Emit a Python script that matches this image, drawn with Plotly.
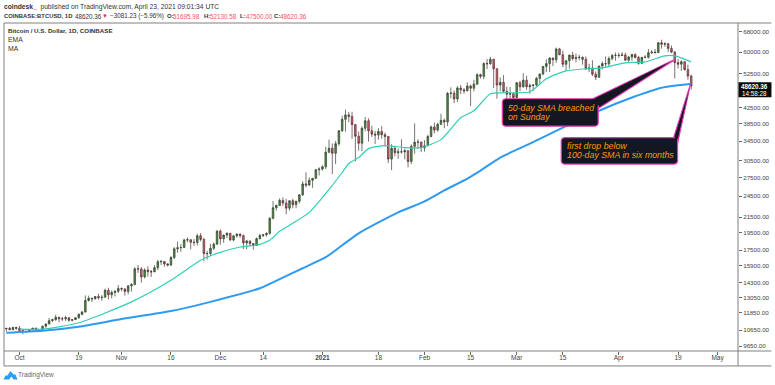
import pandas as pd
import plotly.graph_objects as go

W, H = 775, 385
L, R, T, B = 3.5, 738.5, 22.5, 351.5

closes = [10770,10690,10840,10780,
10620,10570,10550,10670,10790,10600,10670,10920,11060,11300,11370,11540,11430,11430,11510,11320,11370,11510,11750,11920,12810,12990,12940,13130,13040,13070,13650,13280,13460,13560,13800,
13760,13550,14030,14150,15590,15580,14830,15480,15330,15300,15700,16290,16330,16070,15960,16730,17660,17780,17800,18660,18680,18400,18370,19160,18720,17150,17140,17720,18180,19700,
18790,19230,19450,18650,19150,19360,19170,18320,18550,18250,18040,18810,19170,19270,19440,21350,22800,23130,23860,23480,22740,23820,23240,23730,24700,26440,26250,27040,27370,28880,28990,
29410,32200,33000,31990,33950,36800,39500,40600,40240,38240,35570,34050,37370,39150,36770,36020,35820,36630,35900,35500,30850,33000,32100,32290,32260,32510,30400,33400,34270,34300,33110,
33530,35510,37670,36950,38290,39260,38870,46450,46500,44840,48000,47450,47170,48580,47930,49150,52150,51600,55900,55800,57400,54100,48880,49700,47000,46150,46340,45240,
49600,48370,50370,48370,48760,48880,50970,52400,54900,55850,57800,57230,61190,59000,55630,56900,58900,57650,58030,58100,57350,54100,54340,52300,51300,55050,55850,55780,57620,58770,58800,
58740,58970,57060,58210,59130,58050,55950,58090,58100,59770,59980,59830,63600,62970,63200,61400,60000,56200,55660,56500,53800,51700,48620.36]

opens = [10730,10770,10690,10840,
10780,10620,10570,10550,10670,10790,10600,10670,10920,11060,11300,11370,11540,11430,11430,11510,11320,11370,11510,11750,11920,12810,12990,12940,13130,13040,13070,13650,13280,13460,13560,
13800,13760,13550,14030,14150,15590,15580,14830,15480,15330,15300,15700,16290,16330,16070,15960,16730,17660,17780,17800,18660,18680,18400,18370,19160,18720,17150,17140,17720,18180,
19700,18790,19230,19450,18650,19150,19360,19170,18320,18550,18250,18040,18810,19170,19270,19440,21350,22800,23130,23860,23480,22740,23820,23240,23730,24700,26440,26250,27040,27370,28880,
28990,29410,32200,33000,31990,33950,36800,39500,40600,40240,38240,35570,34050,37370,39150,36770,36020,35820,36630,35900,35500,30850,33000,32100,32290,32260,32510,30400,33400,34270,34300,
33110,33530,35510,37670,36950,38290,39260,38870,46450,46500,44840,48000,47450,47170,48580,47930,49150,52150,51600,55900,55800,57400,54100,48880,49700,47000,46150,46340,
45240,49600,48370,50370,48370,48760,48880,50970,52400,54900,55850,57800,57230,61190,59000,55630,56900,58900,57650,58030,58100,57350,54100,54340,52300,51300,55050,55850,55780,57620,58770,
58800,58740,58970,57060,58210,59130,58050,55950,58090,58100,59770,59980,59830,63600,62970,63200,61400,60000,56200,55660,56500,53800,51695.98]

highs = [10800,10870,10860,10860,
10930,10670,10600,10700,10800,10800,10700,10950,11110,11490,11440,11730,11550,11560,11640,11540,11400,11530,11820,12000,13220,13200,13030,13170,13350,13250,13790,13860,13640,13650,14100,
13890,13820,14070,14270,15740,15970,15760,15650,15840,15480,15960,16490,16480,16330,16170,16880,17850,18480,18190,18810,18960,18750,18770,19400,19480,18900,17440,18200,18350,19860,
19920,19300,19560,19500,19170,19420,19400,19300,18640,18560,18300,18950,19400,19350,19570,21500,23780,23280,24170,24300,24100,23830,24100,23800,24790,26890,28400,27500,27410,28990,29300,
29680,33300,34800,34000,34500,36950,40400,41950,41380,41400,38260,36600,37850,40100,39750,37950,36800,37400,37850,36400,35600,33850,33500,32960,34880,32900,32560,33800,38500,34900,34340,
34700,35900,38000,38700,38700,40900,39700,46800,48200,47300,48600,48900,48000,49700,49000,50500,52600,52500,56300,57500,58300,57500,54200,51300,52000,48400,48300,46600,
49800,50200,52600,51800,49400,49200,51400,52400,54900,57400,58100,58000,61700,61600,60600,56900,59000,60100,59400,59000,58400,58400,55800,57000,53200,55100,56600,58400,58400,59300,59800,
59800,60000,59800,58500,59300,59500,58600,58200,58900,61200,60700,61200,63800,64800,63800,63500,62500,60400,57500,57000,56800,55500,52130.58]

lows = [10560,10650,10640,10670,
10530,10370,10520,10540,10630,10530,10560,10650,10810,11060,11210,11290,11180,11280,11280,11220,11240,11340,11420,11680,11900,12720,12680,12890,12880,12780,13060,12900,12980,13130,13430,
13570,13200,13300,13530,14090,15200,14320,14700,14850,14830,15290,15470,15970,15800,15820,15880,16570,17230,17340,17780,18400,17610,18000,18030,18500,16330,16520,16900,17520,18130,
18120,18330,18870,18570,18520,18930,18910,17640,17610,17910,17570,18020,18720,19000,19050,19280,21230,22400,23060,23060,21900,22400,22720,22720,23420,24520,25880,26100,25800,27320,27850,
28700,29000,32000,28100,29900,33500,36500,36600,38800,35000,30400,32500,32400,36700,34400,35400,33900,34800,35000,33400,30100,28800,31400,30900,31900,30800,29300,29900,31900,32900,32200,
32300,33400,35300,36200,36600,38200,37400,37900,45000,43700,44000,46200,46300,47000,42900,47000,49000,50900,50700,54000,55500,48000,44900,47000,46700,44100,45100,43000,
45100,47100,48100,47500,46300,47100,48500,49300,51900,53000,53000,55000,56100,58900,54600,53300,54100,57000,56300,57000,55500,53700,53000,51700,50400,51300,53900,54700,54900,57000,56900,
57900,58500,56900,56500,56800,57700,55500,55800,57700,57600,59300,59400,59800,61300,62000,60000,59600,50900,54200,53400,53500,50500,47500]

first_day = "2020-09-27"
candle_days = pd.date_range(first_day, periods=len(closes), freq="D")

ema_dates = ["2020-10-01","2020-10-08","2020-10-19","2020-11-04","2020-11-16","2020-11-25","2020-11-30","2020-12-07","2020-12-13","2020-12-16","2020-12-19","2020-12-23","2020-12-28","2021-01-02","2021-01-07","2021-01-09","2021-01-11","2021-01-12","2021-01-15","2021-01-20","2021-01-26","2021-01-31","2021-02-06","2021-02-12","2021-02-16","2021-02-21","2021-02-25","2021-03-05","2021-03-10","2021-03-16","2021-03-22","2021-03-27","2021-04-03","2021-04-09","2021-04-15","2021-04-18","2021-04-23"]
ema_values = [10720,10722,11150,12700,14530,16450,17170,17860,18160,18620,19690,20690,22150,24910,28380,30010,30770,31150,32930,33550,33140,33140,34820,39900,41670,46300,46590,46880,50820,53400,54070,54400,56110,56450,58610,58610,56450]

ma_dates = ["2020-09-27","2020-10-08","2020-10-19","2020-11-01","2020-11-16","2020-11-28","2020-12-13","2020-12-19","2020-12-26","2021-01-02","2021-01-07","2021-01-12","2021-01-24","2021-02-01","2021-02-07","2021-02-14","2021-02-18","2021-02-24","2021-03-05","2021-03-15","2021-03-26","2021-04-04","2021-04-14","2021-04-23"]
ma_values = [10480,10610,10880,11410,11990,12700,13820,14620,15650,16760,18050,19450,22150,23710,25380,27340,28730,31150,33960,37510,41670,44880,48050,49260]

price_ticks = [68000,60000,52500,42500,38500,34500,30500,27500,24500,21500,19500,17500,15900,14300,13050,11850,10650,9650]
date_ticks = ["2020-10-01","2020-10-19","2020-11-01","2020-11-16","2020-12-01","2020-12-14","2021-01-01","2021-01-18","2021-02-01","2021-02-15","2021-03-01","2021-03-15","2021-04-01","2021-04-19","2021-05-01"]
date_labels = ["Oct","19","Nov","16","Dec","14","<b>2021</b>","18","Feb","15","Mar","15","Apr","19","May"]

FONT = "Liberation Sans"
def px(x): return (x - L) / (R - L)
def py(y): return 1 - (y - T) / (B - T)

fig = go.Figure()
fig.add_trace(go.Scatter(x=ma_dates, y=ma_values, mode="lines", line=dict(color="#2e9bf0", width=2, shape="spline", smoothing=0.6), hoverinfo="skip", showlegend=False))
fig.add_trace(go.Scatter(x=ema_dates, y=ema_values, mode="lines", line=dict(color="#2fd0b4", width=1.2, shape="spline", smoothing=0.6), hoverinfo="skip", showlegend=False))
fig.add_trace(go.Candlestick(x=candle_days, open=opens, high=highs, low=lows, close=closes, whiskerwidth=0,
    increasing=dict(line=dict(color="#33402e", width=0.7), fillcolor="#4c8f3f"),
    decreasing=dict(line=dict(color="#4a3034", width=0.7), fillcolor="#d9606c"),
    showlegend=False))

def seg(x0, y0, x1, y1, color="#808080", w=1):
    return dict(type="line", xref="paper", yref="paper", x0=px(x0), y0=py(y0), x1=px(x1), y1=py(y1), line=dict(color=color, width=w), layer="above")

def pth(pts, fill, line=None, lw=1.3):
    d = "M" + " L".join(f"{px(x):.5f},{py(y):.5f}" for x, y in pts) + " Z"
    return dict(type="path", xref="paper", yref="paper", path=d, fillcolor=fill, layer="above",
                line=dict(color=line or fill, width=lw if line else 0))

def rounded(x0, y0, x1, y1, r):
    return [(x0+r,y0),(x1-r,y0),(x1-r*.3,y0+r*.3),(x1,y0+r),(x1,y1-r),(x1-r*.3,y1-r*.3),(x1-r,y1),(x0+r,y1),(x0+r*.3,y1-r*.3),(x0,y1-r),(x0,y0+r),(x0+r*.3,y0+r*.3)]

mag = "#e23bb4"; dark = "#131722"
shapes = []
shapes.append(pth([(593,98.5),(675.5,59),(599,108)], dark, mag, 1.2))
shapes.append(pth(rounded(502.5,98.5,598.5,126,3), dark, mag, 1.2))
shapes.append(pth([(592,100),(672,60.5),(597,106)], dark))
shapes.append(pth([(674,137.5),(691,83.5),(678,143)], dark, mag, 1.2))
shapes.append(pth(rounded(561.5,137.5,678,164,3), dark, mag, 1.2))
shapes.append(pth([(675,139),(690,88),(677,141)], dark))
shapes += [seg(3.5,22.5,772,22.5), seg(3.5,22.5,3.5,366.5), seg(3.5,366.5,772,366.5), seg(738.5,22.5,738.5,366.5), seg(3.5,351.5,772,351.5)]
shapes.append(pth([(739,82),(772,82),(772,97),(739,97)], "#0a0a0a"))
shapes.append(pth([(3,380),(5,376),(7,376),(10,371.5),(13,375),(15,375),(17,380),(13,380),(11,377),(8.5,380)], "#2a9df4"))

def note(x, y, text, size=7, color="#333", anchor="left"):
    return dict(xref="paper", yref="paper", x=px(x), y=py(y), text=text, showarrow=False, xanchor=anchor, yanchor="middle",
                align="left", borderpad=0, borderwidth=0, font=dict(family=FONT, size=size, color=color))

red = "#f7525f"
orange = "#ff9800"
annotations = [
    note(3, 6.5, "<b>coindesk_</b> &nbsp;published on TradingView.com, April 23, 2021 09:01:34 UTC", size=6.7),
    note(3, 15.5, "<b>COINBASE:BTCUSD, 1D</b>", size=5.9),
    note(75, 15.5, "48620.36", size=6.3),
    note(102, 15.5, "▼", size=6, color="#e5303c"),
    note(110, 15.5, "−3081.23 (−5.96%)", size=6.3),
    note(167, 15.5, "<b>O:</b>", size=6), note(172.5, 15.5, "51695.98", size=6.3, color=red),
    note(204, 15.5, "<b>H:</b>", size=6), note(210, 15.5, "52130.58", size=6.3, color=red),
    note(240, 15.5, "<b>L:</b>", size=6), note(245.5, 15.5, "47500.00", size=6.3, color=red),
    note(274, 15.5, "<b>C:</b>", size=6), note(280, 15.5, "48620.36", size=6.3, color=red),
    note(8, 30.5, "<b>Bitcoin / U.S. Dollar, 1D, COINBASE</b>", size=6.2),
    note(8, 39.5, "EMA", size=6.8),
    note(8, 48.5, "MA", size=6.8),
    note(508, 107.5, "<i>50-day SMA breached</i>", size=8.7, color=orange),
    note(508, 116.5, "<i>on Sunday</i>", size=8.7, color=orange),
    note(567, 146, "<i>first drop below</i>", size=8.8, color=orange),
    note(567, 154.5, "<i>100-day SMA in six months</i>", size=8.8, color=orange),
    note(755.5, 86.3, "<b>48620.36</b>", size=6.3, color="#ffffff", anchor="center"),
    note(755.5, 93, "14:58:28", size=6.3, color="#ffffff", anchor="center"),
    note(18, 376, "TradingView", size=6.5, color="#666"),
]

fig.update_layout(
    width=W, height=H, margin=dict(l=L, r=W-R, t=T, b=H-B, pad=0),
    paper_bgcolor="#ffffff", plot_bgcolor="#ffffff", showlegend=False, boxgap=0.3,
    font=dict(family=FONT, size=7, color="#444"),
    shapes=shapes, annotations=annotations,
    xaxis=dict(type="date", range=["2020-09-26 07:00", "2021-05-07 05:00"], rangeslider=dict(visible=False),
               tickmode="array", tickvals=date_ticks, ticktext=date_labels, tickangle=0, showgrid=False, zeroline=False,
               ticks="outside", ticklen=3, tickcolor="#666", tickfont=dict(size=6.5, color="#444"), showline=False, ticklabelstandoff=-3),
    yaxis=dict(type="log", side="right", range=[3.9711, 4.8567], tickmode="array", tickvals=price_ticks,
               ticktext=[f"{v}.00" for v in price_ticks], showgrid=False, zeroline=False,
               ticks="outside", ticklen=3, tickcolor="#666", tickfont=dict(size=6.2, color="#444"), showline=False),
)

fig.write_html("out.html", config={"displayModeBar": False},
               post_script="document.body.style.margin='0';document.body.style.overflow='hidden';")
